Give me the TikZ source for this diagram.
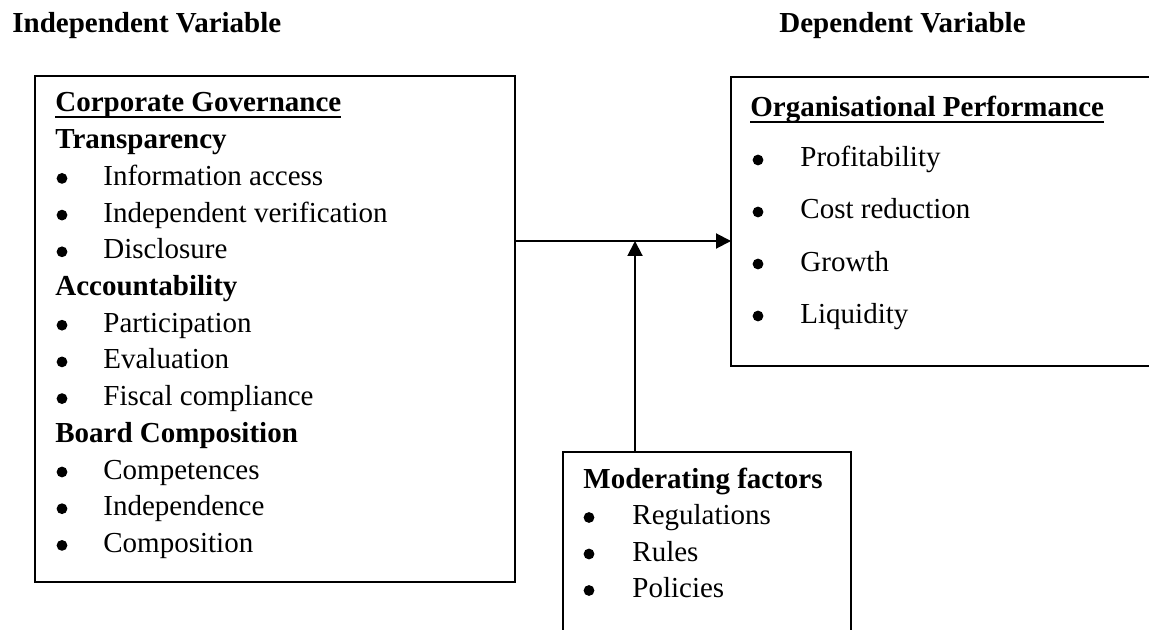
\documentclass[tikz,border=0pt]{standalone}
\usepackage{fontspec}
\setmainfont{Liberation Serif}
\usepackage{tikz}
\usetikzlibrary{arrows.meta, fit}

\newcommand{\diagfont}{\fontsize{14.5pt}{17pt}\selectfont}
% heading with a thick underline
\newcommand{\uhead}[1]{\setbox0\hbox{#1}\rlap{\rule[-3pt]{\wd0}{1pt}}\box0}

\begin{document}
\begin{tikzpicture}[x=0.5pt, y=-0.5pt,
    font=\diagfont,
    box/.style={draw, line width=1pt, inner sep=0pt, outer sep=0pt},
    head/.style={anchor=base west, inner sep=0pt, font=\diagfont\bfseries},
    item/.style={anchor=base west, inner sep=0pt},
    arr/.style={line width=1pt, -{Triangle[length=7.5pt, width=7.5pt]}}]
    \useasboundingbox (0,0) rectangle (1149,630);
    \clip (0,0) rectangle (1149,630);

    % variable titles
    \node[head] (indep) at (12,33) {Independent Variable};
    \node[head] (dep) at (779,33) {Dependent Variable};

    % boxes (the right and lower ones run off the page)
    \node[box, fit={(35,76) (515,582)}] (gov) {};
    \node[box, fit={(731,77) (1170,366)}] (perf) {};
    \node[box, fit={(563,452) (851,650)}] (mod) {};

    % corporate governance
    \node[head] (gov-0) at (55,112) {\uhead{Corporate Governance}};
    \foreach \i/\t in {1/Transparency, 5/Accountability, 9/Board Composition}
        \node[head] (gov-\i) at (55,112+36.7*\i) {\t};
    \foreach \i/\t in {2/Information access, 3/Independent verification, 4/Disclosure,
                       6/Participation, 7/Evaluation, 8/Fiscal compliance,
                       10/Competences, 11/Independence, 12/Composition}{
        \node[item] (gov-\i) at (103,112+36.7*\i) {\t};
        \fill[shift={(gov-\i.base west)}] (-41,-7) circle (2.7pt);
    }

    % organisational performance
    \node[head] (perf-0) at (750,117) {\uhead{Organisational Performance}};
    \foreach \t [count=\i] in {Profitability, Cost reduction, Growth, Liquidity}{
        \node[item] (perf-\i) at (800,115+52*\i) {\t};
        \fill[shift={(perf-\i.base west)}] (-42,-7) circle (2.7pt);
    }

    % moderating factors
    \node[head] (mod-0) at (583,488) {Moderating factors};
    \foreach \t [count=\i] in {Regulations, Rules, Policies}{
        \node[item] (mod-\i) at (632,488+36.5*\i) {\t};
        \fill[shift={(mod-\i.base west)}] (-43,-7) circle (2.7pt);
    }

    % links
    \coordinate (meet) at (635,241);
    \draw[arr] (gov.east |- meet) -- (perf.west |- meet);
    \draw[arr] (mod.north -| meet) -- (meet);
\end{tikzpicture}
\end{document}
